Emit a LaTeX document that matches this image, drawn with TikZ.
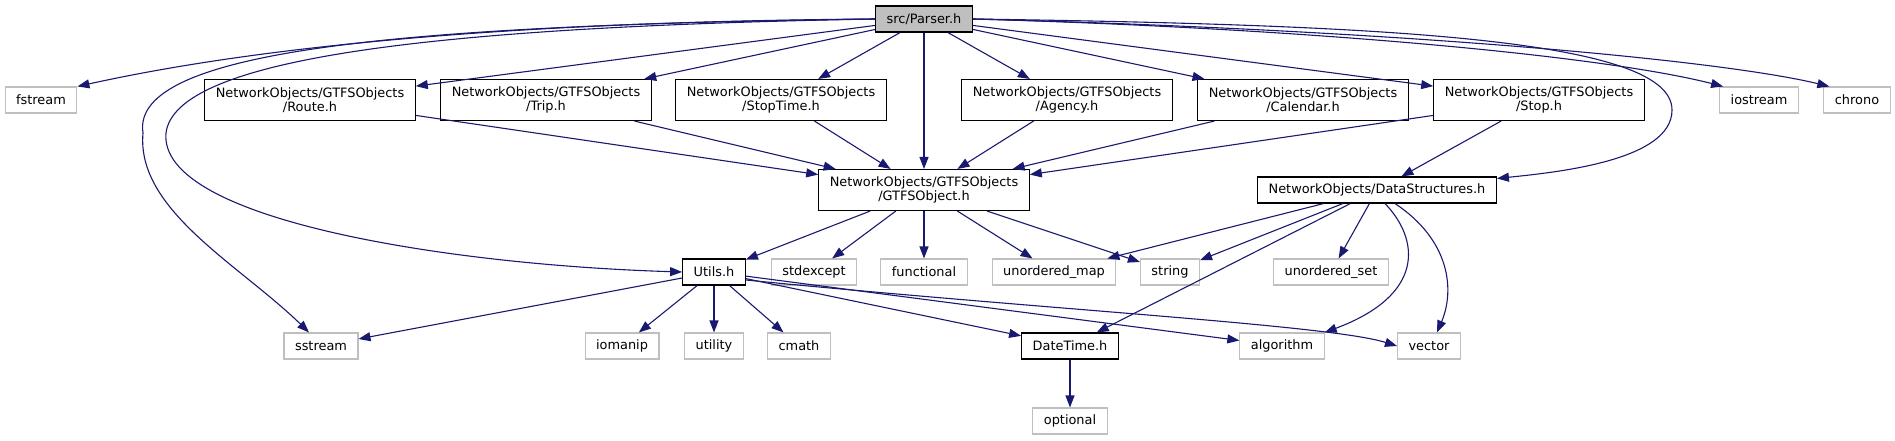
\documentclass[tikz,border=0pt]{standalone}
\usepackage{fontspec}
\setmainfont{DejaVu Sans}
\usetikzlibrary{arrows.meta}
\definecolor{edgeblue}{RGB}{25,25,112}
\definecolor{sysgray}{RGB}{191,191,191}

\begin{document}
\begin{tikzpicture}[x=1pt, y=-1pt,
  box/.style={draw, line width=1.1pt, fill=white, font=\fontsize{12.9}{14.5}\selectfont, inner xsep=11pt, inner ysep=0pt, minimum height=26pt, align=center},
  projbox/.style={box, draw=black},
  tallbox/.style={projbox, minimum height=41pt},
  rootbox/.style={projbox, fill=sysgray},
  sysbox/.style={box, draw=sysgray},
  arr/.style={-{Triangle[length=12pt,width=9pt]}, draw=edgeblue, line width=1.1pt}
]
\useasboundingbox (0,0) rectangle (1895,440);

\node[rootbox] (parser) at (924,19) {src/Parser.h};

\node[sysbox] (fstream) at (41,100) {fstream};
\node[tallbox] (route) at (310,100) {NetworkObjects/GTFSObjects\\/Route.h};
\node[tallbox] (trip) at (546,100) {NetworkObjects/GTFSObjects\\/Trip.h};
\node[tallbox] (stoptime) at (781,100) {NetworkObjects/GTFSObjects\\/StopTime.h};
\node[tallbox] (agency) at (1067,100) {NetworkObjects/GTFSObjects\\/Agency.h};
\node[tallbox] (calendar) at (1303,100) {NetworkObjects/GTFSObjects\\/Calendar.h};
\node[tallbox] (stop) at (1539,100) {NetworkObjects/GTFSObjects\\/Stop.h};
\node[sysbox] (iostream) at (1759,100) {iostream};
\node[sysbox] (chrono) at (1857,100) {chrono};

\node[tallbox] (gtfsobj) at (924,190) {NetworkObjects/GTFSObjects\\/GTFSObject.h};
\node[projbox] (datastruct) at (1377,190) {NetworkObjects/DataStructures.h};

\node[projbox] (utils) at (714,272) {Utils.h};
\node[sysbox] (stdexcept) at (814,272) {stdexcept};
\node[sysbox] (functional) at (924,272) {functional};
\node[sysbox] (umap) at (1054,272) {unordered\_map};
\node[sysbox] (string) at (1170,272) {string};
\node[sysbox] (uset) at (1331,272) {unordered\_set};

\node[sysbox] (sstream) at (321,346) {sstream};
\node[sysbox] (iomanip) at (622,346) {iomanip};
\node[sysbox] (utility) at (714,346) {utility};
\node[sysbox] (cmath) at (799,346) {cmath};
\node[projbox] (datetime) at (1070,346) {DateTime.h};
\node[sysbox] (algorithm) at (1282,346) {algorithm};
\node[sysbox] (vector) at (1429,346) {vector};

\node[sysbox] (optional) at (1070,421) {optional};

\draw[arr] (parser.west) .. controls (450,22) and (220,55) .. (fstream.north east);
\draw[arr] (parser.west) .. controls (400,25) and (130,50) .. (143,133) .. controls (136,210) and (240,265) .. ([xshift=-12pt]sstream.north);
\draw[arr] (parser.west) .. controls (420,27) and (175,60) .. (166,133) .. controls (158,220) and (450,265) .. (utils.west);
\draw[arr] (parser) -- (route);
\draw[arr] (parser) -- (trip);
\draw[arr] (parser) -- (stoptime);
\draw[arr] (parser) -- (gtfsobj);
\draw[arr] (parser) -- (agency);
\draw[arr] (parser) -- (calendar);
\draw[arr] (parser) -- (stop);
\draw[arr] (parser.east) .. controls (1300,28) and (1600,55) .. ([xshift=4pt]iostream.north west);
\draw[arr] (parser.east) .. controls (1400,30) and (1720,60) .. ([xshift=6pt]chrono.north west);
\draw[arr] (parser.east) .. controls (1400,25) and (1672,40) .. (1672,110) .. controls (1672,160) and (1560,172) .. ([yshift=-2pt]datastruct.north east);

\draw[arr] (route) -- (gtfsobj);
\draw[arr] (trip) -- (gtfsobj);
\draw[arr] (stoptime) -- (gtfsobj);
\draw[arr] (agency) -- (gtfsobj);
\draw[arr] (calendar) -- (gtfsobj);
\draw[arr] (stop) -- (gtfsobj);
\draw[arr] (stop) -- (datastruct);

\draw[arr] (gtfsobj) -- (utils);
\draw[arr] (gtfsobj) -- (stdexcept);
\draw[arr] (gtfsobj) -- (functional);
\draw[arr] (gtfsobj) -- (umap);
\draw[arr] (gtfsobj) -- (string);

\draw[arr] (datastruct) -- (umap);
\draw[arr] (datastruct) -- (string);
\draw[arr] (datastruct) -- (uset);
\draw[arr] (datastruct) -- (datetime);
\draw[arr] ([xshift=8pt]datastruct.south) .. controls (1420,240) and (1425,295) .. (algorithm.north east);
\draw[arr] ([xshift=18pt]datastruct.south) .. controls (1450,240) and (1455,290) .. ([xshift=8pt]vector.north);

\draw[arr] (utils) -- (sstream);
\draw[arr] (utils) -- (iomanip);
\draw[arr] (utils) -- (utility);
\draw[arr] (utils) -- (cmath);
\draw[arr] (utils) -- (datetime);
\draw[arr] (utils) -- (algorithm);
\draw[arr] ([yshift=-8pt]utils.east) .. controls (1050,310) and (1330,325) .. (vector.west);

\draw[arr] (datetime) -- (optional);
\end{tikzpicture}
\end{document}
